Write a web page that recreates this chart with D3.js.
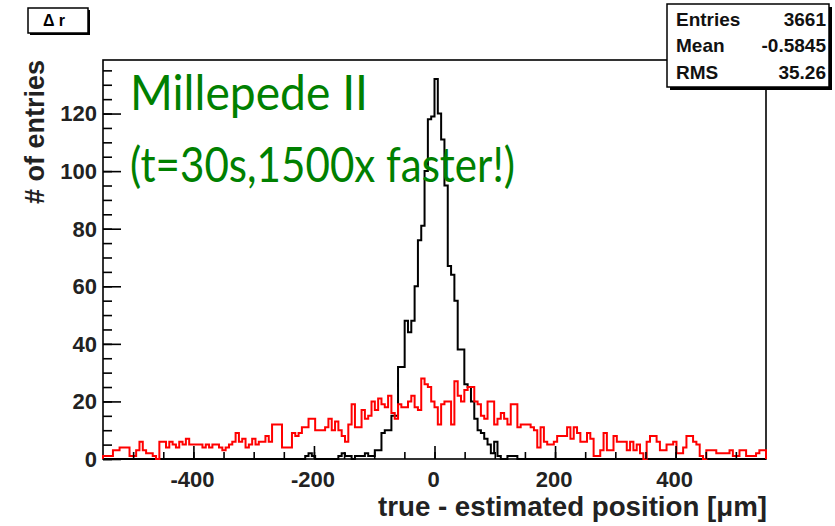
<!DOCTYPE html>
<html>
<head>
<meta charset="utf-8">
<script src="https://cdn.jsdelivr.net/npm/d3@7"></script>
<style>
  html, body { margin: 0; padding: 0; background: #fff; }
  svg { display: block; }
  text { font-family: "Liberation Sans", Arial, Helvetica, sans-serif; }
</style>
</head>
<body>
<svg id="chart" width="835" height="526"></svg>
<script>
// Histogram binning: 200 bins on [-550, 550] um
const binLow = -550;
const binHigh = 550;
const nBins = 200;

// Residuals after alignment (black) — counts per bin
const alignedCounts = [
  0,0,0,0,0,0,0,0,0,0, 0,0,0,0,0,0,0,0,0,0,
  0,0,0,0,0,0,0,0,0,0, 0,0,0,0,0,0,0,0,0,0,
  0,0,0,0,0,0,0,0,0,0, 0,0,0,0,0,0,0,0,0,0,
  0,1,2,1,0,0,0,0,0,0, 0,1,2,1,1,0,1,1,1,2,
  1,1,3,3,9,10,10,15,15,32, 32,48,44,48,60,76,81,100,118,119,
  132,120,111,95,67,64,55,38,38,26, 25,20,14,10,9,7,5,2,6,1,
  0,0,1,1,1,0,0,0,0,0, 0,0,0,0,0,0,0,0,0,0,
  0,0,0,0,0,0,0,0,0,0, 0,0,0,0,0,0,0,0,0,0,
  0,0,0,0,0,0,0,0,0,0, 0,0,0,0,0,0,0,0,0,0,
  0,0,0,0,0,0,0,0,0,0, 0,0,0,0,0,0,0,0,0,0
];

// Residuals before alignment (red) — counts per bin
const misalignedCounts = [
  1,1,1,3,3,4,4,4,1,1, 3,6,3,2,2,1,0,6,6,4,
  6,5,4,6,5,7,5,5,5,5, 4,5,4,5,5,4,3,4,5,6,
  9,6,7,4,5,7,5,6,6,8, 6,12,12,12,4,4,4,9,8,9,
  11,11,14,14,10,10,10,11,14,10, 13,10,8,6,12,19,11,11,17,14,
  15,20,17,21,19,18,22,16,14,19, 18,18,20,22,18,17,28,26,25,20,
  18,12,19,20,20,12,27,22,20,24, 25,25,20,19,15,14,20,20,12,14,
  16,14,12,19,19,11,12,12,12,11, 10,4,11,6,5,5,6,8,8,8,
  11,7,11,9,6,6,9,7,1,1, 3,9,3,3,8,6,6,6,3,6,
  3,5,2,0,6,8,8,6,3,3, 5,5,6,2,2,4,8,8,6,5,
  1,0,3,3,3,2,2,2,2,3, 1,1,3,3,1,1,1,2,3,3
];

// Axis labels and statistics box contents
const xTickValues = [-400, -200, 0, 200, 400];
const yTickValues = [0, 20, 40, 60, 80, 100, 120];
const statsRows = [
  ["Entries", "3661"],
  ["Mean", "-0.5845"],
  ["RMS", "35.26"]
];

const svg = d3.select("#chart");
const frame = { left: 103, right: 766, top: 60, bottom: 459 };
const binWidth = (binHigh - binLow) / nBins;
const yMax = 1.05 * d3.max(alignedCounts);

const x = d3.scaleLinear().domain([binLow, binHigh]).range([frame.left, frame.right]);
const y = d3.scaleLinear().domain([0, yMax]).range([frame.bottom, frame.top]);

svg.append("rect").attr("width", 835).attr("height", 526).attr("fill", "#fff");

// Step outline of a histogram
function histPath(counts) {
  const pts = [[binLow, 0]];
  counts.forEach((c, i) => {
    const lo = binLow + i * binWidth;
    pts.push([lo, c], [lo + binWidth, c]);
  });
  pts.push([binHigh, 0]);
  return d3.line().x(d => x(d[0])).y(d => y(d[1]))(pts);
}

// Frame
svg.append("rect")
  .attr("x", frame.left).attr("y", frame.top)
  .attr("width", frame.right - frame.left).attr("height", frame.bottom - frame.top)
  .attr("fill", "none").attr("stroke", "#000").attr("stroke-width", 1.6);

// Histograms
svg.append("path").attr("d", histPath(alignedCounts))
  .attr("fill", "none").attr("stroke", "#000").attr("stroke-width", 2);
svg.append("path").attr("d", histPath(misalignedCounts))
  .attr("fill", "none").attr("stroke", "#ff0000").attr("stroke-width", 2);

// X axis: major ticks every 200, minor every 50, drawn inward
const xAxis = d3.axisTop(x).tickValues(xTickValues).tickSize(13).tickFormat("");
const xMinor = d3.axisTop(x).tickValues(d3.range(-500, 501, 50)).tickSize(7).tickFormat("");
[xMinor, xAxis].forEach(ax => {
  const g = svg.append("g").attr("transform", `translate(0,${frame.bottom})`).call(ax);
  g.select(".domain").remove();
  g.selectAll("line").attr("stroke", "#000").attr("stroke-width", 1.6);
});
svg.append("g").selectAll("text").data(xTickValues).join("text")
  .attr("x", d => x(d) - 1).attr("y", 487)
  .attr("text-anchor", "middle").attr("font-size", 22).attr("font-weight", "bold")
  .attr("fill", "#222").text(d => d);

// Y axis: major ticks every 20, minor every 5, drawn inward
const yAxis = d3.axisRight(y).tickValues(yTickValues).tickSize(18).tickFormat("");
const yMinor = d3.axisRight(y).tickValues(d3.range(0, 136, 5)).tickSize(9).tickFormat("");
[yMinor, yAxis].forEach(ax => {
  const g = svg.append("g").attr("transform", `translate(${frame.left},0)`).call(ax);
  g.select(".domain").remove();
  g.selectAll("line").attr("stroke", "#000").attr("stroke-width", 1.6);
});
svg.append("g").selectAll("text").data(yTickValues).join("text")
  .attr("x", 97).attr("y", d => y(d)).attr("dy", "0.36em")
  .attr("text-anchor", "end").attr("font-size", 22).attr("font-weight", "bold")
  .attr("fill", "#222").text(d => d);

// Axis titles
svg.append("text")
  .attr("x", frame.right + 1).attr("y", 516)
  .attr("text-anchor", "end").attr("font-size", 27).attr("font-weight", "bold")
  .attr("textLength", 389).attr("lengthAdjust", "spacingAndGlyphs")
  .attr("fill", "#222").text("true - estimated position [\u03bcm]");
svg.append("text")
  .attr("transform", `translate(44,${frame.top}) rotate(-90)`)
  .attr("text-anchor", "end").attr("font-size", 27).attr("font-weight", "bold")
  .attr("fill", "#222").text("# of entries");

// Annotation
svg.append("text")
  .attr("x", 130).attr("y", 110)
  .attr("font-size", 48).attr("fill", "#008000")
  .attr("textLength", 238).attr("lengthAdjust", "spacingAndGlyphs")
  .style("font-family", "Lato, 'Liberation Sans', sans-serif")
  .text("Millepede II");
svg.append("text")
  .attr("x", 130).attr("y", 182)
  .attr("font-size", 48).attr("fill", "#008000")
  .attr("textLength", 385).attr("lengthAdjust", "spacingAndGlyphs")
  .style("font-family", "Lato, 'Liberation Sans', sans-serif")
  .text("(t=30s,1500x faster!)");

// Title box
svg.append("rect").attr("x", 30).attr("y", 10).attr("width", 60).attr("height", 25).attr("fill", "#000");
svg.append("rect").attr("x", 28).attr("y", 8).attr("width", 60).attr("height", 25)
  .attr("fill", "#fff").attr("stroke", "#000").attr("stroke-width", 1.5);
svg.append("text").attr("x", 54).attr("y", 26)
  .attr("text-anchor", "middle").attr("font-size", 16).attr("font-weight", "bold")
  .text("\u0394 r");

// Statistics box
const sb = { x: 667, y: 4, w: 162, h: 83 };
svg.append("rect").attr("x", sb.x + 3).attr("y", sb.y + 3).attr("width", sb.w).attr("height", sb.h).attr("fill", "#000");
svg.append("rect").attr("x", sb.x).attr("y", sb.y).attr("width", sb.w).attr("height", sb.h)
  .attr("fill", "#fff").attr("stroke", "#000").attr("stroke-width", 1.5);
const rowBase = [26, 52, 79];
statsRows.forEach((r, i) => {
  svg.append("text").attr("x", 676).attr("y", rowBase[i])
    .attr("font-size", 19).attr("font-weight", "bold").attr("fill", "#111").text(r[0]);
  svg.append("text").attr("x", 826).attr("y", rowBase[i])
    .attr("text-anchor", "end").attr("font-size", 19).attr("font-weight", "bold").attr("fill", "#111").text(r[1]);
});
</script>
</body>
</html>
